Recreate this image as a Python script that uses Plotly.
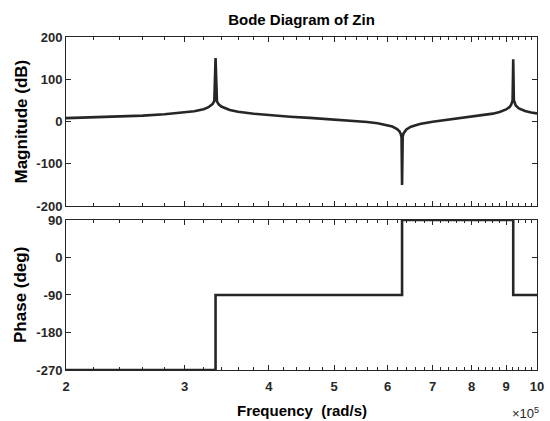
import numpy as np
import plotly.graph_objects as go

# ---- data (frequency in units of 1e5 rad/s) ----
mag_freq = [2.0, 2.2, 2.4, 2.6, 2.8, 3.0, 3.1, 3.2, 3.25, 3.3, 3.32, 3.334, 3.35, 3.37, 3.4,
            3.5, 3.6, 3.8, 4.0, 4.3, 4.6, 5.0, 5.3, 5.6, 5.8, 6.0, 6.1, 6.2, 6.25, 6.28,
            6.295, 6.306, 6.32, 6.34, 6.4, 6.5, 6.7, 7.0, 7.3, 7.6, 8.0, 8.3, 8.6, 8.8,
            9.0, 9.1, 9.15, 9.2, 9.22, 9.24, 9.3, 9.4, 9.6, 9.8, 10.0]
mag_db = [7.9, 9.7, 11.7, 14.0, 17.0, 21.2, 24.3, 29.2, 33.3, 41.1, 48.8, 150, 47.7, 40.7, 35.4,
          27.4, 23.2, 18.3, 15.0, 11.4, 8.5, 5.0, 2.2, -1.2, -4.2, -8.6, -12.0, -17.8, -23.3, -29.9,
          -37.4, -150, -35.3, -27.6, -18.7, -12.3, -5.9, -0.5, 3.4, 6.7, 10.9, 14.3, 18.6, 22.4,
          28.5, 33.9, 38.7, 49.7, 147, 49.8, 37.8, 31.0, 24.8, 21.4, 19.1]

phase_freq = [2.0, 3.334, 3.334, 6.306, 6.306, 9.22, 9.22, 10.0]
phase_deg = [-270, -270, -90, -90, 90, 90, -90, -90]

x_tick_vals = [2, 3, 4, 5, 6, 7, 8, 9, 10]
x_tick_text = ["2", "3", "4", "5", "6", "7", "8", "9", "10"]
x_minor_vals = [v / 10 for v in range(20, 101, 2) if v % 10 != 0]
mag_ticks = [-200, -100, 0, 100, 200]
mag_tick_text = ["-200", "-100", "0", "100", "200"]
phase_ticks = [-270, -180, -90, 0, 90]
phase_tick_text = ["-270", "-180", "-90", "0", "90"]

scale = 1e5
C = "#262626"
FONT = "Liberation Sans, Arial, sans-serif"

fig = go.Figure()
fig.add_trace(go.Scatter(x=np.array(mag_freq) * scale, y=mag_db, mode="lines",
                         line=dict(color=C, width=2.6), xaxis="x2", yaxis="y2",
                         showlegend=False))
fig.add_trace(go.Scatter(x=np.array(phase_freq) * scale, y=phase_deg, mode="lines",
                         line=dict(color=C, width=2.6), xaxis="x", yaxis="y",
                         showlegend=False))

tickfont = dict(family=FONT, size=13, color=C, weight="bold")
xcommon = dict(type="log", range=[np.log10(2e5), np.log10(1e6)],
               tickvals=[v * scale for v in x_tick_vals], ticktext=x_tick_text,
               ticks="inside", ticklen=5, tickcolor=C, tickwidth=1,
               minor=dict(tickvals=[v * scale for v in x_minor_vals], ticks="inside",
                          ticklen=3, tickcolor=C, tickwidth=1),
               showline=True, linecolor=C, linewidth=1, mirror="ticks",
               showgrid=False, zeroline=False, tickfont=tickfont)
ycommon = dict(ticks="inside", ticklen=5, tickcolor=C, tickwidth=1,
               showline=True, linecolor=C, linewidth=1, mirror="ticks",
               showgrid=False, zeroline=False, tickfont=tickfont)

fig.update_layout(
    width=550, height=421,
    margin=dict(l=66, r=13, t=37, b=51, autoexpand=False),
    paper_bgcolor="white", plot_bgcolor="white",
    title=dict(text="Bode Diagram of Zin", x=0.5, xref="paper", xanchor="center",
               y=1 - 20 / 421, yref="container", yanchor="middle",
               font=dict(family=FONT, size=15, color="black", weight="bold")),
    xaxis=dict(domain=[0, 1], anchor="y", ticklabelstandoff=4, **xcommon),
    xaxis2=dict(domain=[0, 1], anchor="y2", matches="x", showticklabels=False, **xcommon),
    yaxis=dict(domain=[0, 0.4505], anchor="x", range=[-270, 90], tickvals=phase_ticks,
               ticktext=phase_tick_text, **ycommon),
    yaxis2=dict(domain=[0.4925, 1], anchor="x2", range=[-200, 200], tickvals=mag_ticks,
                ticktext=mag_tick_text, **ycommon),
    annotations=[
        dict(text="Frequency\u00a0 (rad/s)", xref="paper", yref="paper", x=0.5, y=(370 - 410) / 333,
             xanchor="center", yanchor="middle", showarrow=False,
             font=dict(family=FONT, size=15, color="black", weight="bold")),
        dict(text="×10<sup>5</sup>", xref="paper", yref="paper", x=(541 - 66) / 471,
             y=(370 - 413) / 333, xanchor="right", yanchor="middle", showarrow=False,
             font=dict(family=FONT, size=13, color=C)),
        dict(text="Magnitude (dB)", xref="paper", yref="paper", x=(21 - 66) / 471,
             y=(0.4925 + 1) / 2, xanchor="center", yanchor="middle", textangle=-90,
             showarrow=False, font=dict(family=FONT, size=17, color="black", weight="bold")),
        dict(text="Phase (deg)", xref="paper", yref="paper", x=(21 - 66) / 471,
             y=0.4505 / 2, xanchor="center", yanchor="middle", textangle=-90,
             showarrow=False, font=dict(family=FONT, size=17, color="black", weight="bold")),
    ],
)

fig.write_html("out.html", config={"displayModeBar": False},
               post_script="document.body.style.margin='0';")
